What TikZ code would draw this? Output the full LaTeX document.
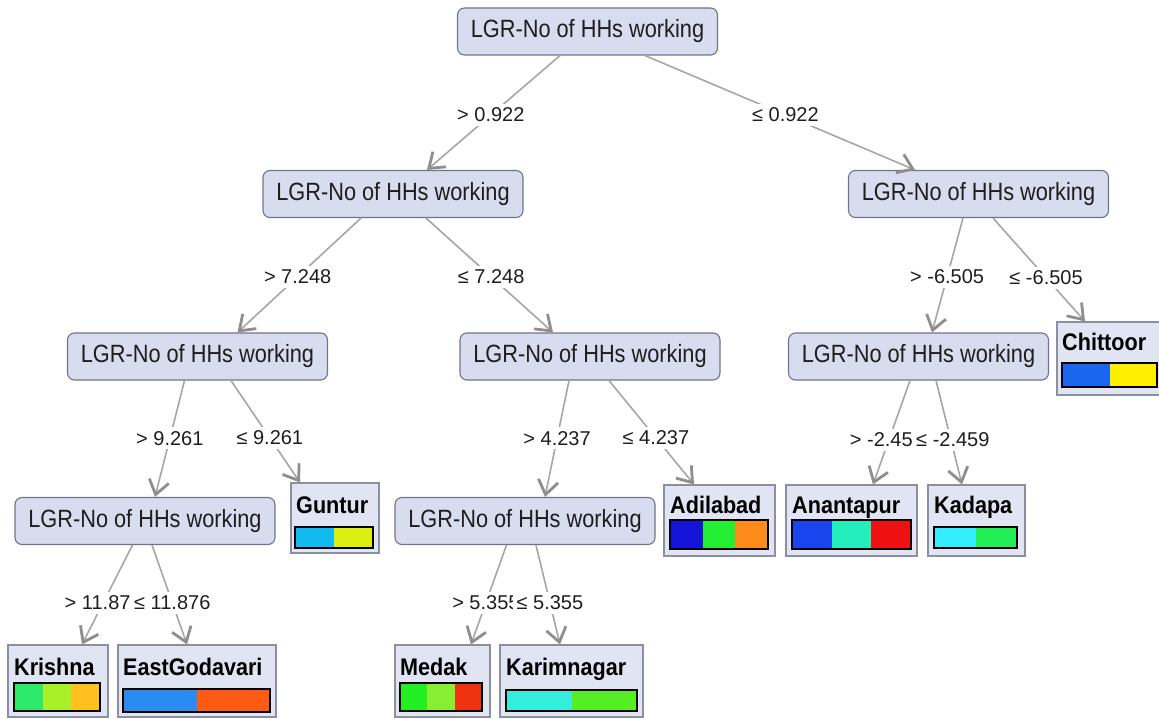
\documentclass[tikz,border=0pt]{standalone}
\usepackage{fontspec}
\setmainfont{Liberation Sans}
\newfontfamily\nodefont[FakeStretch=0.87]{Liberation Sans}
\newfontfamily\leaffont[FakeStretch=0.9]{Liberation Sans}
\usetikzlibrary{arrows.meta}
\definecolor{txt}{HTML}{1E1E1E}
\definecolor{attrfill}{HTML}{D7DCEF}
\definecolor{attrline}{HTML}{6F7488}
\definecolor{leaffill}{HTML}{E1E4F2}
\definecolor{leafline}{HTML}{8C8FA0}
\definecolor{linkc}{HTML}{A6A6A6}
\definecolor{tipc}{HTML}{8E8E8E}
% class distribution colours
\definecolor{krA}{HTML}{2EEA6A}
\definecolor{krB}{HTML}{A8F02A}
\definecolor{krC}{HTML}{FFC020}
\definecolor{egA}{HTML}{2A8CF0}
\definecolor{egB}{HTML}{FF5A14}
\definecolor{mdA}{HTML}{22EE22}
\definecolor{mdB}{HTML}{88EE33}
\definecolor{mdC}{HTML}{EE3311}
\definecolor{kmA}{HTML}{33EEDD}
\definecolor{kmB}{HTML}{55EE22}
\definecolor{gnA}{HTML}{11BBEE}
\definecolor{gnB}{HTML}{DDEE11}
\definecolor{adA}{HTML}{1414D8}
\definecolor{adB}{HTML}{22EE33}
\definecolor{adC}{HTML}{FF8C1A}
\definecolor{anA}{HTML}{1A44EE}
\definecolor{anB}{HTML}{22EEBB}
\definecolor{anC}{HTML}{EE1111}
\definecolor{kdA}{HTML}{33EEFF}
\definecolor{kdB}{HTML}{22EE55}
\definecolor{chA}{HTML}{1A66EE}
\definecolor{chB}{HTML}{FFEE00}
\tikzset{
  attr/.style={
    rectangle, rounded corners=7pt, draw=attrline, fill=attrfill,
    line width=1.1pt, minimum width=260pt, minimum height=47pt,
    inner sep=0pt, text=txt, font=\nodefont\fontsize{25}{28}\selectfont
  },
  leaf/.style={rectangle, draw=leafline, fill=leaffill, line width=1.1pt, inner sep=0pt},
  lname/.style={anchor=base west, inner sep=0pt, text=black,
    font=\leaffont\bfseries\fontsize{24}{26}\selectfont},
  cond/.style={fill=white, inner sep=4pt, text=txt, font=\fontsize{20}{23}\selectfont},
  link/.style={draw=linkc, line width=1.6pt,
    -{Straight Barb[length=14pt,width=20pt,line width=2.8pt,color=tipc]}},
  barline/.style={draw=black, line width=1.4pt}
}
\newcommand{\colbar}[6]{%
  \foreach \cc [count=\ii from 0] in {#6}
    \fill[\cc] ({#1+(#3-#1)*\ii/#5},#2) rectangle ({#1+(#3-#1)*(\ii+1)/#5},#4);
  \draw[barline] (#1,#2) rectangle (#3,#4);
}

\begin{document}
\begin{tikzpicture}[x=1pt,y=-1pt]
\useasboundingbox (0,0) rectangle (1159,719);

\node[attr] (root) at (587.5,31.5) {LGR-No of HHs working};
\node[attr] (nL) at (393,194) {LGR-No of HHs working};
\node[attr] (nR) at (978.5,194) {LGR-No of HHs working};
\node[attr] (nLL) at (197.5,356.5) {LGR-No of HHs working};
\node[attr] (nLM) at (590,356.5) {LGR-No of HHs working};
\node[attr] (nRL) at (918.5,356.5) {LGR-No of HHs working};
\node[attr] (nLLL) at (145,521) {LGR-No of HHs working};
\node[attr] (nLML) at (525,521) {LGR-No of HHs working};

% leaves
\node[leaf, minimum width=100pt, minimum height=72pt] (krishna) at (58,681) {};
\node[leaf, minimum width=158pt, minimum height=72pt] (egod) at (197,681) {};
\node[leaf, minimum width=95pt, minimum height=72pt] (medak) at (442.5,681) {};
\node[leaf, minimum width=143pt, minimum height=72pt] (karim) at (571.5,681) {};
\node[leaf, minimum width=88pt, minimum height=70pt] (guntur) at (335,518) {};
\node[leaf, minimum width=111pt, minimum height=71pt] (adil) at (719.5,520.5) {};
\node[leaf, minimum width=131pt, minimum height=71pt] (anant) at (851.5,520.5) {};
\node[leaf, minimum width=97pt, minimum height=71pt] (kadapa) at (976.5,520.5) {};
\node[leaf, minimum width=103pt, minimum height=73pt] (chittoor) at (1108.5,358.5) {};

\node[lname] (krishnaN) at (14,675) {Krishna};
\node[lname] (egodN) at (123,675) {EastGodavari};
\node[lname] (medakN) at (400,675) {Medak};
\node[lname] (karimN) at (506,675) {Karimnagar};
\node[lname] (gunturN) at (296,513) {Guntur};
\node[lname] (adilN) at (670,513) {Adilabad};
\node[lname] (anantN) at (792,513) {Anantapur};
\node[lname] (kadapaN) at (934,513) {Kadapa};
\node[lname] (chittoorN) at (1062,350) {Chittoor};

\colbar{14}{683}{100}{711}{3}{krA,krB,krC}
\colbar{123}{689}{270}{712}{2}{egA,egB}
\colbar{400}{683}{482}{711}{3}{mdA,mdB,mdC}
\colbar{506}{690}{637}{711}{2}{kmA,kmB}
\colbar{295}{527}{373}{548}{2}{gnA,gnB}
\colbar{670}{520}{768}{549}{3}{adA,adB,adC}
\colbar{792}{520}{911}{549}{3}{anA,anB,anC}
\colbar{934}{527}{1017}{548}{2}{kdA,kdB}
\colbar{1062}{363}{1157}{387}{2}{chA,chB}

% branches
\draw[link] ([xshift=-27.5pt]root.south) -- node[cond, pos=0.52] (gt1) {> 0.922} ([xshift=34pt]nL.north);
\draw[link] ([xshift=57.5pt]root.south) -- node[cond, pos=0.52] (le1) {≤ 0.922} ([xshift=-63.5pt]nR.north);
\draw[link] ([xshift=-32pt]nL.south) -- node[cond, pos=0.513] (gt2) {> 7.248} ([xshift=40pt]nLL.north);
\draw[link] ([xshift=33pt]nL.south) -- node[cond, pos=0.513] (le2) {≤ 7.248} ([xshift=-37pt]nLM.north);
\draw[link] ([xshift=-15.5pt]nR.south) -- node[cond, pos=0.513] (gt3) {> -6.505} ([xshift=13.5pt]nRL.north);
\draw[link] ([xshift=14.5pt]nR.south) -- node[cond, pos=0.577] (le3) {≤ -6.505} ([xshift=-23.5pt]chittoor.north);
\draw[link] ([xshift=-13pt]nLL.south) -- node[cond, pos=0.496] (gt4) {> 9.261} ([xshift=10pt]nLLL.north);
\draw[link] ([xshift=33.5pt]nLL.south) -- node[cond, pos=0.563] (le4) {≤ 9.261} ([xshift=-35pt]guntur.north);
\draw[link] ([xshift=-21pt]nLM.south) -- node[cond, pos=0.496] (gt5) {> 4.237} ([xshift=20pt]nLML.north);
\draw[link] ([xshift=19pt]nLM.south) -- node[cond, pos=0.552] (le5) {≤ 4.237} ([xshift=-25.5pt]adil.north);
\draw[link] ([xshift=-8.5pt]nRL.south) -- node[cond, pos=0.571, xshift=-2pt] (gt6) {> -2.459} ([xshift=21.5pt]anant.north);
\draw[link] ([xshift=17.5pt]nRL.south) -- node[cond, pos=0.571, xshift=2pt] (le6) {≤ -2.459} ([xshift=-14.5pt]kadapa.north);
\draw[link] ([xshift=-12.5pt]nLLL.south) -- node[cond, pos=0.58] (gt7) {> 11.876} ([xshift=24pt]krishna.north);
\draw[link] ([xshift=7pt]nLLL.south) -- node[cond, pos=0.58] (le7) {≤ 11.876} ([xshift=-10pt]egod.north);
\draw[link] ([xshift=-18.5pt]nLML.south) -- node[cond, pos=0.58] (gt8) {> 5.355} ([xshift=28.5pt]medak.north);
\draw[link] ([xshift=11pt]nLML.south) -- node[cond, pos=0.58] (le8) {≤ 5.355} ([xshift=-11.5pt]karim.north);

\end{tikzpicture}
\end{document}
